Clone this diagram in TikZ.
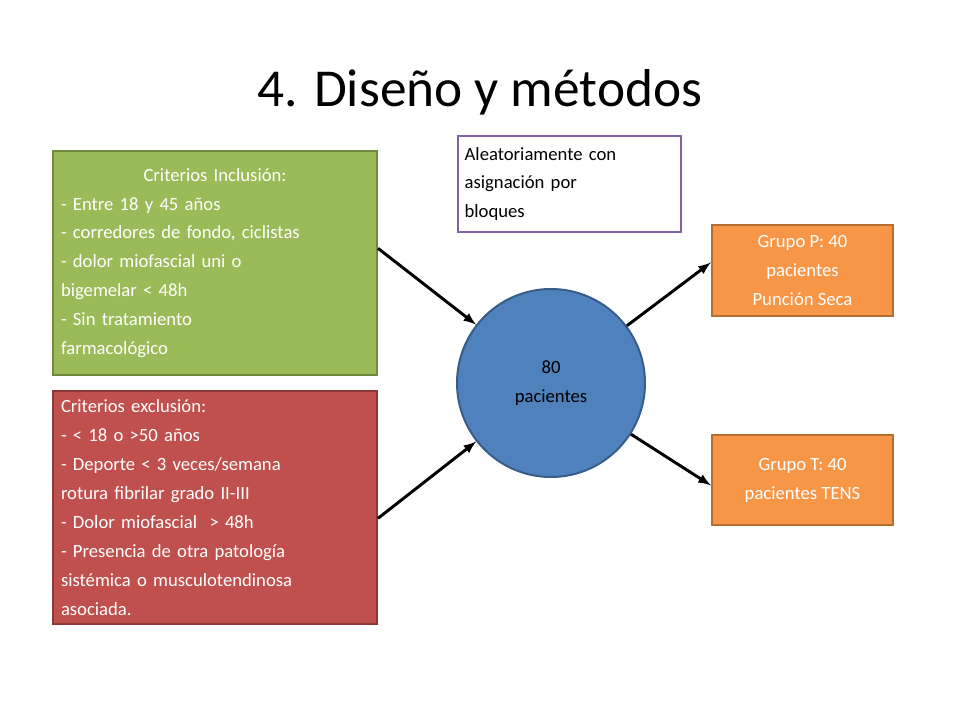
\documentclass[tikz,border=0pt]{standalone}
\usepackage{fontspec}
\setmainfont{Carlito}
\usetikzlibrary{positioning}
\definecolor{incl}{HTML}{9BBB59}
\definecolor{inclb}{HTML}{71893F}
\definecolor{excl}{HTML}{C0504D}
\definecolor{exclb}{HTML}{8C3836}
\definecolor{pac}{HTML}{4F81BD}
\definecolor{pacb}{HTML}{385D8A}
\definecolor{grp}{HTML}{F79646}
\definecolor{grpb}{HTML}{B66D31}
\definecolor{alea}{HTML}{8064A2}
\begin{document}
\begin{tikzpicture}[x=0.75pt,y=-0.75pt]
	\tikzstyle{crit}=[draw,line width=1.5pt,anchor=north west,text=white,align=left,inner sep=6pt,font=\fontsize{14}{21.7}\selectfont]
	\tikzstyle{grupo}=[draw=grpb,fill=grp,line width=1.5pt,text=white,align=center,minimum width=136pt,minimum height=68pt,font=\fontsize{14}{21.7}\selectfont]
	\tikzstyle{flecha}=[line width=2.2pt,-latex]
	\useasboundingbox (0,0) rectangle (960,720);
	\node[font=\fontsize{40}{48}\selectfont] (titulo) at (480,92) {4. Diseño y métodos};
	\node[crit,fill=incl,draw=inclb,text width=231pt,minimum height=168pt,inner ysep=2pt] (incl) at (52,150)
		{\makebox[231pt]{Criterios Inclusión:}\\- Entre 18 y 45 años\\- corredores de fondo, ciclistas\\- dolor miofascial uni o\\bigemelar < 48h\\- Sin tratamiento\\farmacológico};
	\node[crit,fill=excl,draw=exclb,text width=231pt,minimum height=175pt] (excl) at (52,390)
		{Criterios exclusión:\\- < 18 o >50 años\\- Deporte < 3 veces/semana\\rotura fibrilar grado II-III\\- Dolor miofascial \ > 48h\\- Presencia de otra patología\\sistémica o musculotendinosa\\asociada.};
	\node[draw=alea,line width=1.5pt,anchor=north west,align=left,text width=157pt,minimum height=72pt,inner sep=5pt,font=\fontsize{14}{21.7}\selectfont] (alea) at (457,135)
		{Aleatoriamente con\\asignación por\\bloques};
	\node[circle,draw=pacb,fill=pac,line width=1.5pt,minimum size=141pt,align=center,font=\fontsize{14}{21.7}\selectfont] (pac) at (551,383) {80\\pacientes};
	\node[grupo] (grupoP) at (802.5,270.5) {Grupo P: 40\\pacientes\\Punción Seca};
	\node[grupo] (grupoT) at (802.5,480) {Grupo T: 40\\pacientes TENS};

	\draw[flecha] ([yshift=11pt]incl.east) -- (pac);
	\draw[flecha] ([yshift=-8pt]excl.east) -- (pac);
	\draw[flecha] (pac) -- ([yshift=6pt]grupoP.west);
	\draw[flecha] (pac) -- ([yshift=-4pt]grupoT.west);
\end{tikzpicture}
\end{document}
